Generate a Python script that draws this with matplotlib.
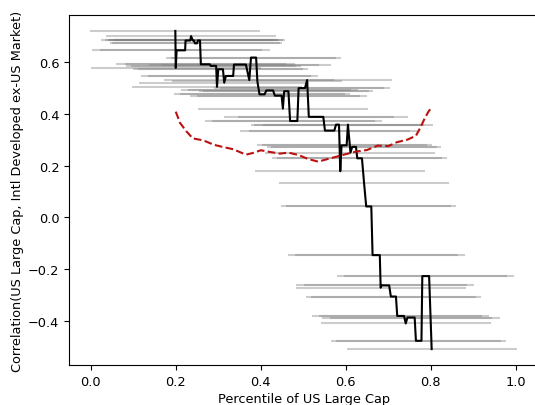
import numpy as np
import matplotlib
matplotlib.use("Agg")
import matplotlib.pyplot as plt

# black step-like curve: (percentile centre, correlation)
pct = [0.199, 0.200, 0.202, 0.222, 0.223, 0.234, 0.236, 0.240, 0.243, 0.245,
       0.250, 0.252, 0.257, 0.259, 0.280, 0.282, 0.295, 0.297, 0.300, 0.311,
       0.314, 0.318, 0.335, 0.337, 0.365, 0.373, 0.377, 0.389, 0.392, 0.397,
       0.409, 0.413, 0.429, 0.433, 0.449, 0.452, 0.455, 0.465, 0.469, 0.486,
       0.489, 0.504, 0.509, 0.513, 0.547, 0.551, 0.573, 0.577, 0.584, 0.587,
       0.590, 0.602, 0.605, 0.611, 0.615, 0.624, 0.627, 0.638, 0.643, 0.648,
       0.660, 0.663, 0.680, 0.682, 0.684, 0.702, 0.706, 0.718, 0.721, 0.737,
       0.741, 0.745, 0.762, 0.765, 0.778, 0.780, 0.796, 0.802]
corr = [0.720, 0.577, 0.645, 0.645, 0.683, 0.683, 0.700, 0.683, 0.683, 0.672,
        0.672, 0.683, 0.683, 0.591, 0.591, 0.585, 0.585, 0.504, 0.572, 0.572,
        0.520, 0.546, 0.546, 0.590, 0.590, 0.530, 0.617, 0.617, 0.525, 0.475,
        0.475, 0.490, 0.490, 0.470, 0.470, 0.420, 0.487, 0.487, 0.372, 0.372,
        0.499, 0.499, 0.530, 0.388, 0.388, 0.335, 0.335, 0.358, 0.358, 0.178,
        0.278, 0.278, 0.358, 0.250, 0.272, 0.272, 0.228, 0.228, 0.132, 0.042,
        0.042, -0.146, -0.146, -0.272, -0.263, -0.263, -0.306, -0.306, -0.381, -0.381,
        -0.410, -0.387, -0.387, -0.477, -0.477, -0.227, -0.227, -0.509]

half_window = 0.2

# red dashed reference curve
ref_pct = [0.200, 0.210, 0.225, 0.240, 0.265, 0.290, 0.310, 0.335, 0.365, 0.385,
           0.400, 0.420, 0.445, 0.465, 0.490, 0.510, 0.535, 0.555, 0.580, 0.600,
           0.625, 0.650, 0.675, 0.700, 0.720, 0.745, 0.765, 0.775, 0.785, 0.795, 0.800]
ref_corr = [0.408, 0.365, 0.332, 0.305, 0.297, 0.280, 0.272, 0.263, 0.242, 0.250,
            0.259, 0.253, 0.246, 0.250, 0.240, 0.226, 0.215, 0.224, 0.235, 0.244,
            0.254, 0.260, 0.277, 0.275, 0.290, 0.300, 0.315, 0.345, 0.380, 0.410, 0.420]

pct = np.array(pct)
corr = np.array(corr)

plt.rcParams['font.size'] = 9.3

fig = plt.figure(figsize=(5.35, 4.06), dpi=100)
ax = fig.add_axes([69 / 535, 40 / 406, 469 / 535, 350 / 406])

ax.hlines(corr, pct - half_window, pct + half_window, color='gray', alpha=0.4, lw=1.5)
ax.plot(pct, corr, color='black', lw=1.5)
ax.plot(ref_pct, ref_corr, color='#bb1111', lw=1.5, linestyle='--')

ax.set_xlabel('Percentile of US Large Cap', labelpad=3)
ax.set_ylabel('Correlation(US Large Cap, Intl Developed ex-US Market)', labelpad=3)

fig.savefig('out.png', dpi=100)
